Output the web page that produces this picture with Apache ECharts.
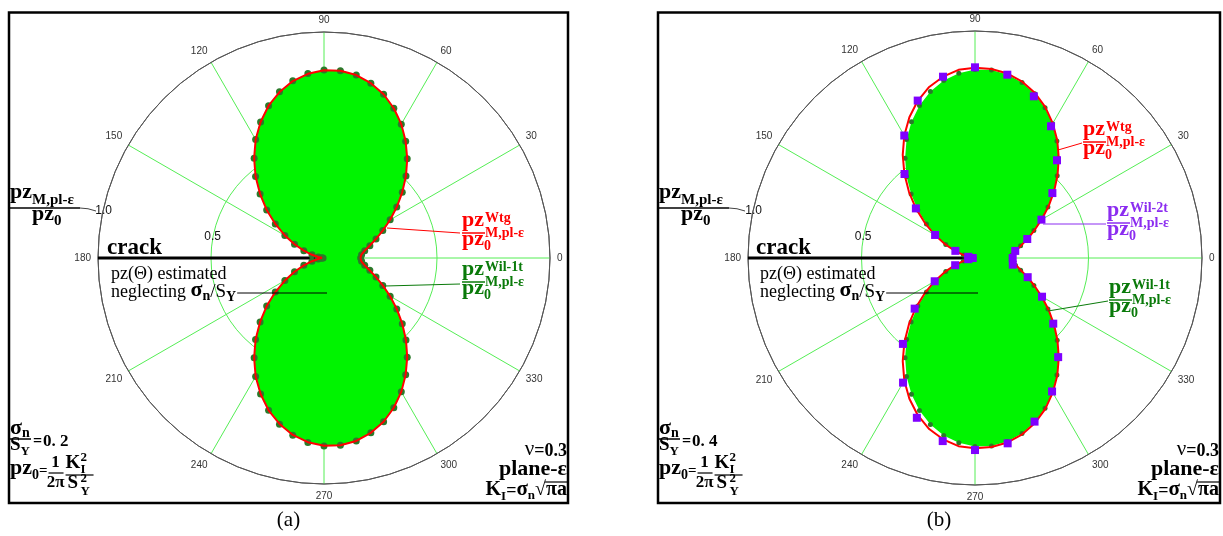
<!DOCTYPE html>
<html><head><meta charset="utf-8">
<script src="https://cdn.jsdelivr.net/npm/echarts@6/dist/echarts.min.js"></script>
<style>html,body{margin:0;padding:0;background:#fff}#c{width:1223px;height:536px}</style>
</head><body><div id="c"></div><script>
// ---------- data ----------
const angles5 = [0,5,10,15,20,25,30,35,40,45,50,55,60,65,70,75,80,85,90,95,100,105,110,115,120,125,130,135,140,145,150,155,160,165,170,175,180,185,190,195,200,205,210,215,220,225,230,235,240,245,250,255,260,265,270,275,280,285,290,295,300,305,310,315,320,325,330,335,340,345,350,355,360];
const angles10 = [0,10,20,30,40,50,60,70,80,90,100,110,120,130,140,150,160,170,180,190,200,210,220,230,240,250,260,270,280,290,300,310,320,330,340,350];
// pz(theta)/pz0 estimated neglecting sigma_n/S_Y (green fill)
const neglect = [0.160,0.165,0.181,0.208,0.243,0.286,0.337,0.392,0.451,0.512,0.572,0.629,0.683,0.730,0.770,0.800,0.821,0.831,0.830,0.817,0.794,0.759,0.715,0.662,0.603,0.537,0.469,0.398,0.329,0.261,0.198,0.142,0.093,0.053,0.024,0.006,0.000,0.006,0.024,0.053,0.093,0.142,0.198,0.261,0.329,0.398,0.469,0.537,0.603,0.662,0.715,0.759,0.794,0.817,0.830,0.831,0.821,0.800,0.770,0.730,0.683,0.629,0.572,0.512,0.451,0.392,0.337,0.286,0.243,0.208,0.181,0.165,0.160];
// panel (a) sigma_n/S_Y = 0.2
const wtgA = [0.161,0.166,0.182,0.209,0.244,0.287,0.338,0.393,0.452,0.513,0.573,0.630,0.684,0.731,0.771,0.801,0.822,0.832,0.831,0.818,0.795,0.760,0.717,0.664,0.605,0.539,0.471,0.400,0.331,0.263,0.200,0.144,0.095,0.055,0.026,0.009,0.004,0.009,0.026,0.055,0.095,0.144,0.200,0.263,0.331,0.400,0.471,0.539,0.605,0.664,0.717,0.760,0.795,0.818,0.831,0.832,0.822,0.801,0.771,0.731,0.684,0.630,0.573,0.513,0.452,0.393,0.338,0.287,0.244,0.209,0.182,0.166,0.161];
const wil1tA = [0.162,0.167,0.183,0.210,0.245,0.287,0.338,0.393,0.452,0.513,0.573,0.630,0.684,0.731,0.771,0.801,0.822,0.832,0.832,0.819,0.796,0.761,0.717,0.664,0.605,0.539,0.471,0.400,0.331,0.263,0.200,0.144,0.095,0.055,0.026,0.010,0.004,0.010,0.026,0.055,0.095,0.144,0.200,0.263,0.331,0.400,0.471,0.539,0.605,0.664,0.717,0.761,0.796,0.819,0.832,0.832,0.822,0.801,0.771,0.731,0.684,0.630,0.573,0.513,0.452,0.393,0.338,0.287,0.245,0.210,0.183,0.167];
// panel (b) sigma_n/S_Y = 0.4
const wtgB = [0.163,0.168,0.184,0.210,0.246,0.289,0.339,0.395,0.454,0.514,0.574,0.632,0.685,0.733,0.773,0.804,0.825,0.836,0.838,0.832,0.811,0.780,0.737,0.684,0.623,0.555,0.484,0.411,0.340,0.270,0.206,0.148,0.097,0.057,0.028,0.012,0.008,0.012,0.028,0.057,0.097,0.148,0.206,0.270,0.340,0.411,0.484,0.555,0.623,0.684,0.737,0.780,0.811,0.832,0.838,0.836,0.825,0.804,0.773,0.733,0.685,0.632,0.574,0.514,0.454,0.395,0.339,0.289,0.246,0.210,0.184,0.168,0.163];
const wil1tB = [0.160,0.165,0.181,0.208,0.243,0.286,0.337,0.392,0.451,0.512,0.572,0.629,0.683,0.730,0.770,0.800,0.821,0.831,0.830,0.817,0.794,0.759,0.715,0.662,0.603,0.537,0.469,0.398,0.329,0.261,0.198,0.142,0.093,0.053,0.024,0.008,0.003,0.008,0.024,0.053,0.093,0.142,0.198,0.261,0.329,0.398,0.469,0.537,0.603,0.662,0.715,0.759,0.794,0.817,0.830,0.831,0.821,0.800,0.770,0.730,0.683,0.629,0.572,0.512,0.451,0.392,0.337,0.286,0.243,0.208,0.181,0.165];
const wil2tB = [0.166,0.180,0.245,0.338,0.445,0.562,0.670,0.758,0.820,0.840,0.811,0.738,0.623,0.483,0.340,0.203,0.092,0.030,0.010,0.030,0.093,0.205,0.347,0.494,0.634,0.749,0.819,0.846,0.829,0.767,0.679,0.570,0.450,0.341,0.247,0.169];
const crackR = [1.0, 0.0];
const crackAngle = [180, 180];
const radialTicks = [0.5, 1.0];
const ratioA = '0.2', ratioB = '0.4';

// ---------- helpers ----------
const SERIF = '"Liberation Serif","Times New Roman",serif';
const ctx = document.createElement('canvas').getContext('2d');
const els = [];
function fnt(p){ return (p.b?'bold ':'') + p.s + 'px ' + (p.ff||SERIF); }
function seq(x, yb, parts, color, align){
  const ws = parts.map(p => { ctx.font = fnt(p); return ctx.measureText(p.t).width + (p.gap||0); });
  const tot = ws.reduce((a,b)=>a+b,0);
  let cx = align==='right' ? x - tot : (align==='center' ? x - tot/2 : x);
  const starts = [];
  parts.forEach((p,i)=>{
    starts.push(cx);
    els.push({type:'text', z:10, style:{text:p.t, x:cx + (p.dx||0), y: yb + (p.dy||0) - 0.34*p.s,
      font: fnt(p), fill: p.c || color || '#000', align:'left', verticalAlign:'middle', textAlign:'left', textVerticalAlign:'middle'}});
    cx += ws[i];
  });
  return {starts, end: cx, ws};
}
function line(x1,y1,x2,y2,color,w){
  els.push({type:'line', z:9, shape:{x1,y1,x2,y2}, style:{stroke:color, lineWidth:w||1}});
}
function frac(x0, yb, sup, color){
  seq(x0, yb-5, [{t:'pz',s:22,b:1}], color);
  seq(x0+23, yb-10, [{t:sup,s:14,b:1}], color);
  seq(x0+23, yb+5, [{t:'M,pl-ε',s:14,b:1}], color);
  line(x0, yb, x0+23, yb, color, 1.5);
  seq(x0, yb+14, [{t:'pz',s:22,b:1},{t:'0',s:14,b:1,dy:4}], color);
}
function panel(ox, cx, cy, R, right, ratio, label){
  els.push({type:'rect', z:8, shape:{x:ox+9, y:12.5, width:right-(ox+9), height:490.5}, style:{fill:'none', stroke:'#000', lineWidth:2.5}});
  seq(ox+10, 200, [{t:'pz',s:22,b:1},{t:'M,pl-ε',s:15,b:1,dy:5}]);
  line(ox+10, 208, ox+80, 208, '#000', 1.5);
  els.push({type:'bezierCurve', z:9, shape:{x1:ox+80,y1:208,x2:ox+96,y2:211,cpx1:ox+88,cpy1:208}, style:{stroke:'#444',lineWidth:1,fill:'none'}});
  seq(ox+32, 222, [{t:'pz',s:22,b:1},{t:'0',s:15,b:1,dy:4}]);
  seq(cx - R*radialTicks[1]*0.975, 215, [{t:radialTicks[1].toFixed(1),s:12,ff:'"Liberation Sans",Arial,sans-serif'}], '#111', 'center');
  seq(cx - R*radialTicks[0]*0.985, 241, [{t:radialTicks[0].toFixed(1),s:12,ff:'"Liberation Sans",Arial,sans-serif'}], '#111', 'center');
  seq(ox+107, 256, [{t:'crack',s:23,b:1}]);
  seq(ox+111, 280, [{t:'pz(Θ) estimated',s:18}]);
  const n = seq(ox+111, 298, [{t:'neglecting ',s:18},{t:'σ',s:22,b:1},{t:'n',s:14,b:1,dy:3},{t:'/',s:19},{t:'S',s:19},{t:'Y',s:14,b:1,dy:4}]);
  line(n.end+1, 293, cx+3, 293, '#000', 1);
  // bottom-left formulas
  seq(ox+10, 436, [{t:'σ',s:22,b:1},{t:'n',s:14,b:1,dy:2}]);
  line(ox+10, 439, ox+31, 439, '#000', 1.5);
  seq(ox+10, 452, [{t:'S',s:19,b:1},{t:'Y',s:13,b:1,dy:4}]);
  seq(ox+33, 447, [{t:'=',s:16,b:1,gap:1},{t:ratio.replace('.', '. '),s:17,b:1}]);
  const p0 = seq(ox+10, 476, [{t:'pz',s:22,b:1},{t:'0',s:14,b:1,dy:4},{t:'=',s:15,b:1}]);
  const fx = p0.end+1;
  seq(fx+7, 468, [{t:'1',s:17,b:1}], '#000', 'center');
  line(fx, 473, fx+15, 473, '#000', 1.2);
  seq(fx+7, 488, [{t:'2π',s:17,b:1}], '#000', 'center');
  const kx = fx+17;
  seq(kx, 470, [{t:'K',s:19,b:1}]);
  seq(kx+15, 462, [{t:'2',s:13,b:1}]);
  seq(kx+15, 474, [{t:'I',s:13,b:1}]);
  line(kx, 475, kx+28, 475, '#000', 1.2);
  seq(kx+2, 490, [{t:'S',s:19,b:1}]);
  seq(kx+15, 483, [{t:'2',s:13,b:1}]);
  seq(kx+15, 496, [{t:'Y',s:13,b:1}]);
  const rx = right - 1;
  seq(rx, 457, [{t:'ν',s:21},{t:'=0.3',s:18,b:1}], '#000', 'right');
  seq(rx, 477, [{t:'plane-ε',s:22,b:1}], '#000', 'right');
  const k = seq(rx, 497, [{t:'K',s:20,b:1},{t:'I',s:13,b:1,dy:4},{t:'=',s:18,b:1},{t:'σ',s:21,b:1},{t:'n',s:13,b:1,dy:3},{t:'√',s:20},{t:'πa',s:20,b:1}], '#000', 'right');
  line(k.starts[6]-1, 482, rx, 482, '#000', 1.2);
  seq((ox+9+right)/2, 528, [{t:label,s:21}], '#000', 'center');
}
panel(0, 324, 258, 226, 568, ratioA, '(a)');
panel(649, 975, 258, 227, 1220, ratioB, '(b)');
const RED='#ff0000', GRN='#0a7a0a', PUR='#8b2cf0';
frac(462, 233, 'Wtg', RED);   line(387,228,460,233,RED,1);
frac(462, 282, 'Wil-1t', GRN); line(385,286,460,284,GRN,1);
frac(1083, 142, 'Wtg', RED);  line(1058,150,1082,143,RED,1);
frac(1107, 223, 'Wil-2t', PUR); line(1043,224,1106,224,PUR,1);
frac(1109, 300, 'Wil-1t', GRN); line(1048,311,1108,301,GRN,1);

// ---------- chart ----------
function pairs(vals, angs){ return vals.map((v,i)=>[v, angs[i]]); }
function axes(i){
  return {
    angle: {polarIndex:i, type:'value', min:0, max:360, interval:30, startAngle:0, clockwise:false, z:1,
      axisLine:{show:true, lineStyle:{color:'#555', width:1}}, axisTick:{show:false},
      axisLabel:{show:true, fontSize:10, color:'#333', fontFamily:'"Liberation Sans",Arial,sans-serif', margin:7, formatter:v=> v>=360 ? '' : String(v)},
      splitLine:{show:true, lineStyle:{color:'#55ee55', width:1}}},
    radius: {polarIndex:i, type:'value', min:0, max:1, interval:0.5, z:1,
      axisLine:{show:false}, axisTick:{show:false}, axisLabel:{show:false},
      splitLine:{show:true, lineStyle:{color:['#55ee55','#55ee55','#555'], width:1}}}
  };
}
const a0 = axes(0), a1 = axes(1);
const FILL = '#00f400';
function fillSeries(i, vals){
  return {type:'line', coordinateSystem:'polar', polarIndex:i, z:2, data:pairs(vals, angles5), showSymbol:false, symbol:'none',
    lineStyle:{width:0, color:FILL}, areaStyle:{color:FILL, opacity:1}, silent:true};
}
function lineSeries(i, vals, color, w){
  return {type:'line', coordinateSystem:'polar', polarIndex:i, z:5, data:pairs(vals, angles5), showSymbol:false, symbol:'none',
    lineStyle:{width:w, color:color}, silent:true};
}
function crackSeries(i){
  return {type:'line', coordinateSystem:'polar', polarIndex:i, z:3, data:pairs(crackR, crackAngle), showSymbol:false, symbol:'none',
    lineStyle:{width:3, color:'#000'}, silent:true};
}
function dotSeries(i, vals, angs, size, color, sym, z){
  return {type:'scatter', coordinateSystem:'polar', polarIndex:i, z:z, data:pairs(vals, angs), symbol:sym||'circle', symbolSize:size,
    itemStyle:{color:color, opacity:1}, silent:true};
}
const chart = echarts.init(document.getElementById('c'), null, {renderer:'canvas'});
chart.setOption({
  animation:false,
  backgroundColor:'#fff',
  polar:[{center:[324,258], radius:226}, {center:[975,258], radius:227}],
  angleAxis:[a0.angle, a1.angle],
  radiusAxis:[a0.radius, a1.radius],
  series:[
    fillSeries(0, neglect),
    crackSeries(0),
    dotSeries(0, wil1tA, angles5, 7, '#2a7a2a', 'circle', 4),
    lineSeries(0, wtgA, RED, 2),
    fillSeries(1, neglect),
    crackSeries(1),
    dotSeries(1, wil1tB, angles5, 5, '#2a7a2a', 'circle', 4),
    lineSeries(1, wtgB, RED, 2),
    dotSeries(1, wil2tB, angles10, 8, '#7f00ff', 'rect', 6)
  ],
  graphic: els
});
</script></body></html>
